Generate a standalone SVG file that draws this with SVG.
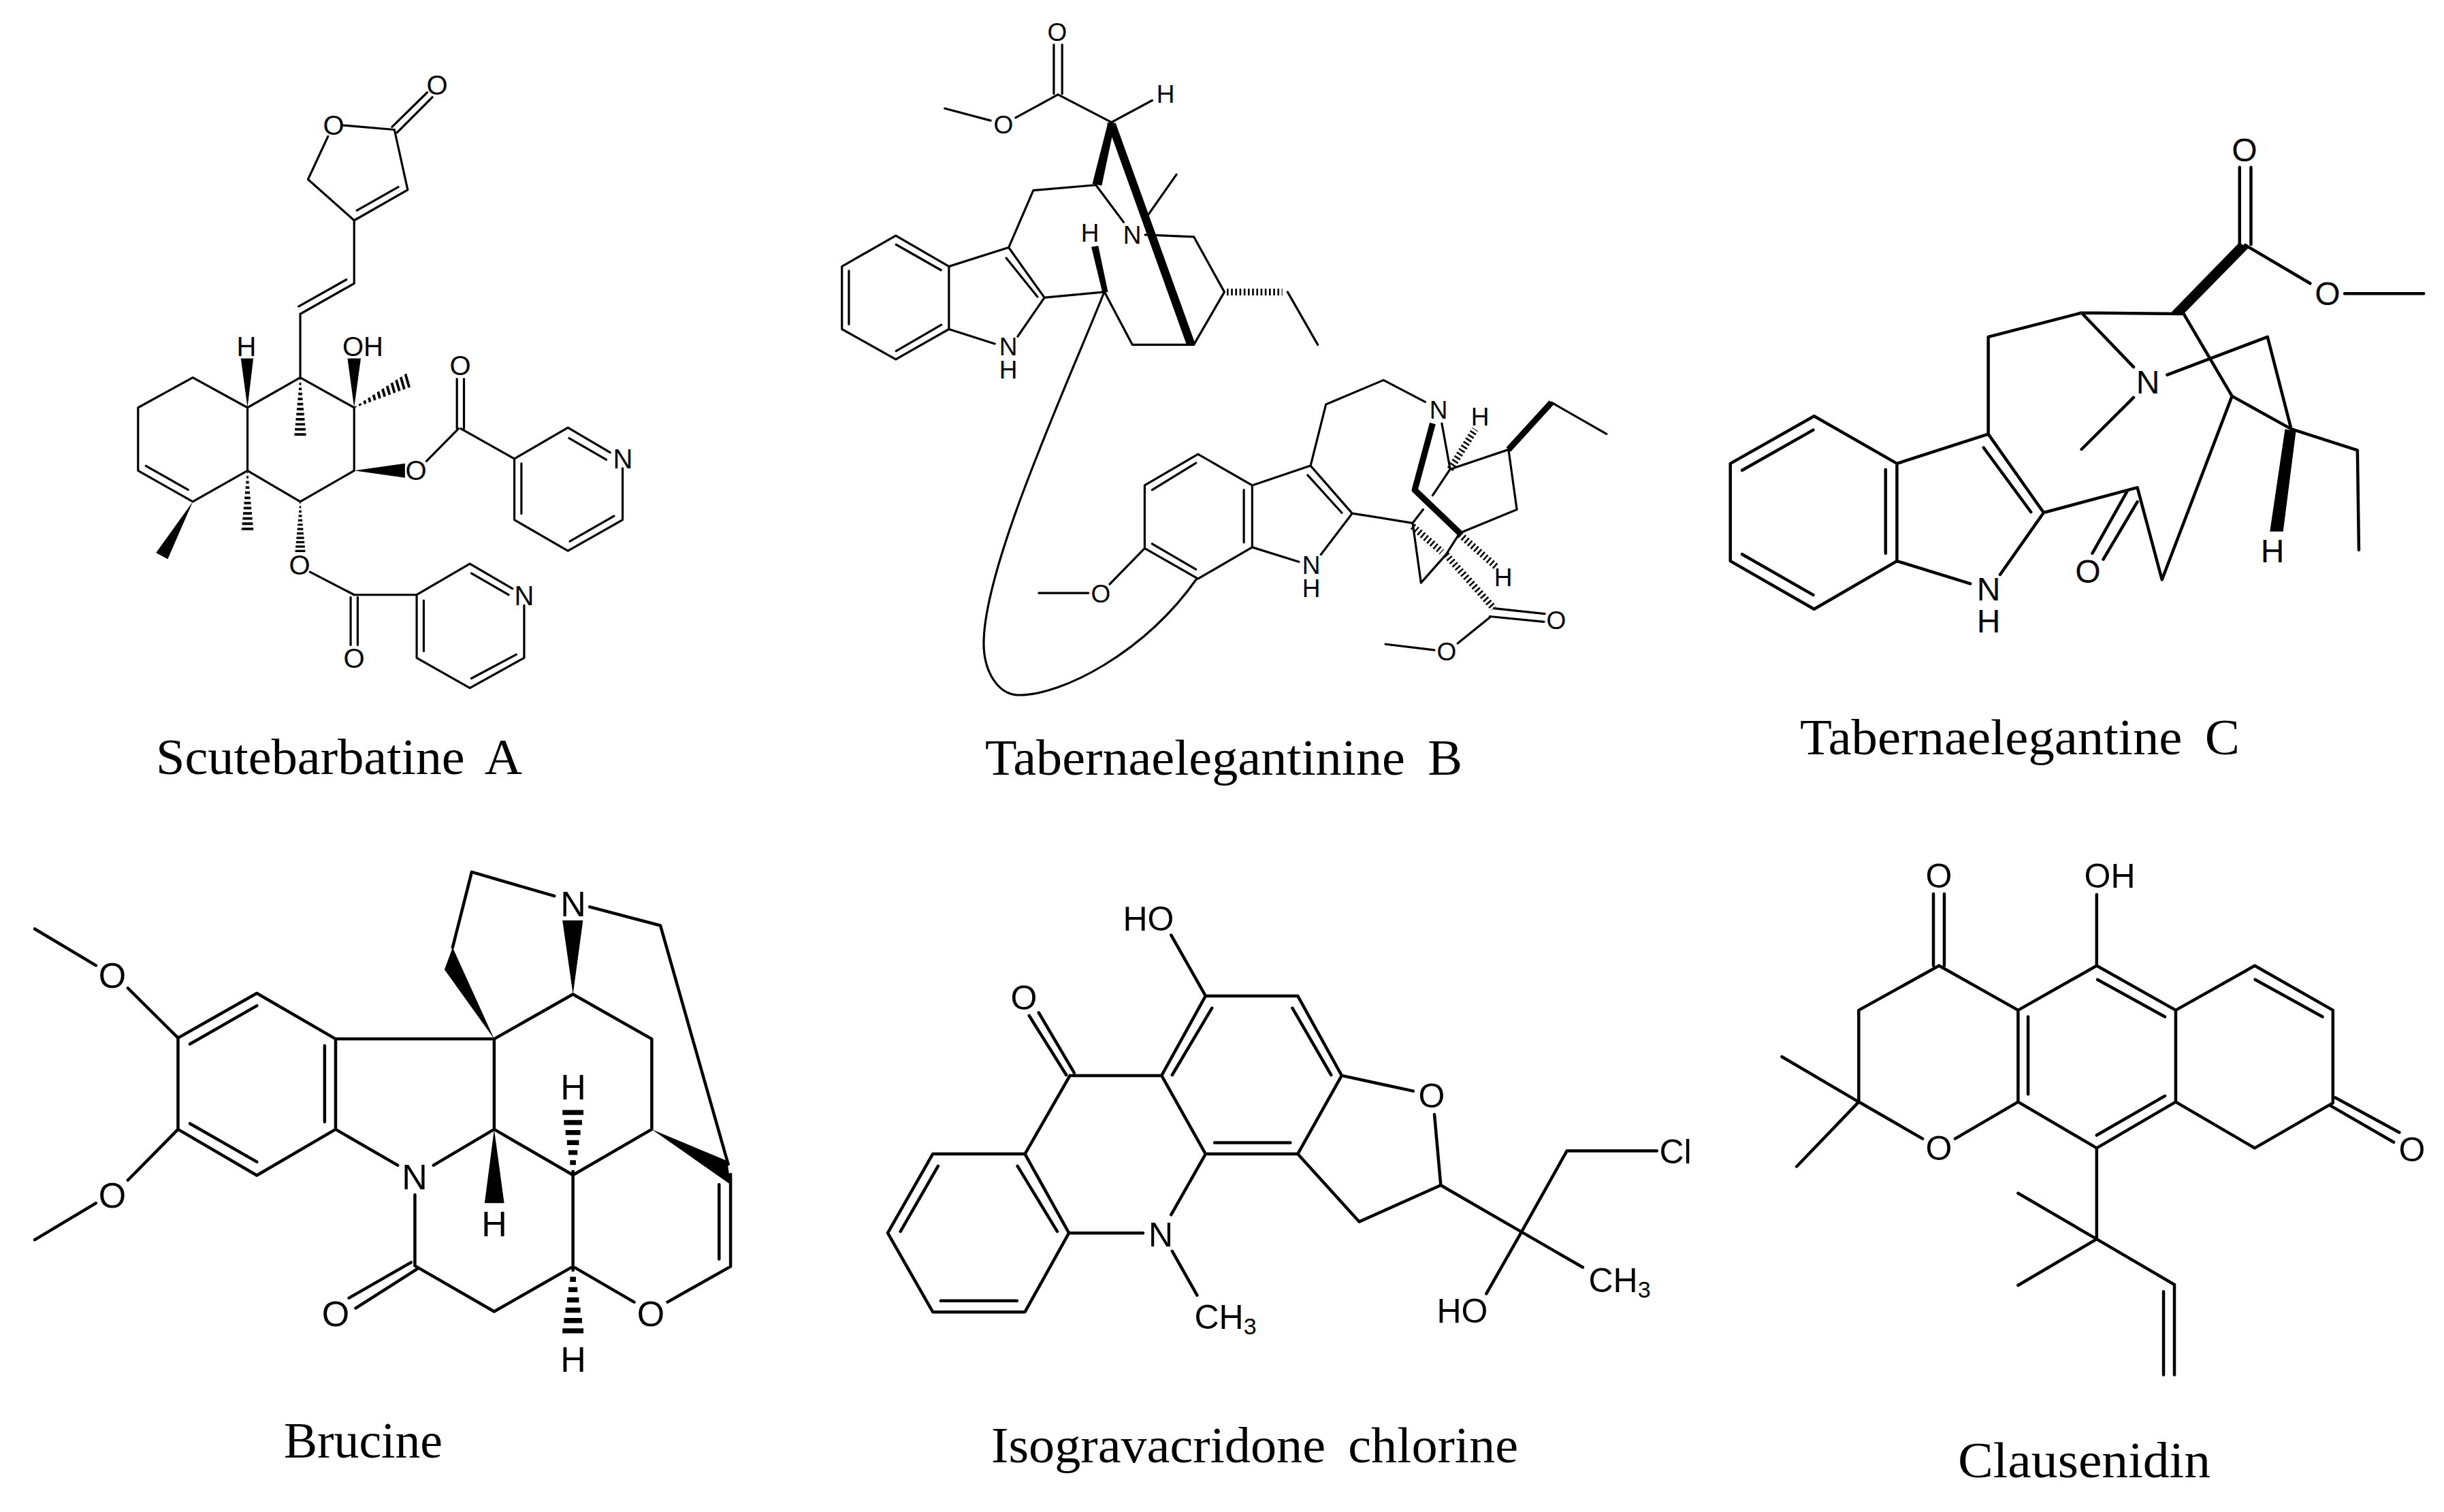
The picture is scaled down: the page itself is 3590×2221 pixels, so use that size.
<svg xmlns="http://www.w3.org/2000/svg" xmlns:xlink="http://www.w3.org/1999/xlink" width="3590" height="2221" viewBox="0 0 3590 2221">
<style>
.b{fill:none;stroke:#000;stroke-width:3.2;stroke-linecap:round;stroke-linejoin:round;vector-effect:non-scaling-stroke}
.b4{fill:none;stroke:#000;stroke-width:4.5;stroke-linecap:round;stroke-linejoin:round;vector-effect:non-scaling-stroke}
.k{fill:none;stroke:#000;stroke-width:9;stroke-linejoin:round;stroke-linecap:butt;vector-effect:non-scaling-stroke}
.d{fill:none;stroke:#000;stroke-width:10;stroke-dasharray:2.6 3.6;vector-effect:non-scaling-stroke}
.a{font-family:"Liberation Sans",Arial,sans-serif;text-anchor:middle;fill:#000}
.cap{font-family:"Liberation Serif","Times New Roman",serif;font-size:75px;word-spacing:14px;fill:#000}
.f40{font-size:40px}.f37{font-size:37px}.f48{font-size:48px}.f52{font-size:52px}.f50{font-size:50px}
.s{font-size:34px}
</style>
<defs>
<path id="h12" d="M0-.08h.042v.16h-.042zM.083-.164h.042v.328h-.042zM.167-.247h.042v.494h-.042zM.25-.331h.042v.662h-.042zM.333-.414h.042v.828h-.042zM.417-.498h.042v.996h-.042zM.5-.582h.042v1.164h-.042zM.583-.665h.042v1.33h-.042zM.667-.749h.042v1.498h-.042zM.75-.832h.042v1.664h-.042zM.833-.916h.042v1.832h-.042zM.917-1h.042v2h-.042z"/>
<path id="h7" d="M0-.14h.07v.28h-.07zM.143-.28h.07v.56h-.07zM.286-.43h.07v.86h-.07zM.429-.57h.07v1.14h-.07zM.571-.71h.07v1.42h-.07zM.714-.86h.07v1.72h-.07zM.857-1h.07v2h-.07z"/>
</defs>
<rect width="3590" height="2221" fill="#fff"/>

<g id="scutebarbatine-a">
<g transform="translate(150 60) scale(.574 .7015)">
<path class="b" d="M618 177L748 186M742 180L832 108M755 192L845 118M748 186L782 312L645 376M652 355L758 306M645 376L527 290L578 200M645 376V508L507 572M503 556L625 500M507 572V705L645 768V900L507 965L372 900V768L507 705M372 768L232 705L92 768V900L232 965L372 900M112 890L220 940M830 880L912 812M908 812V708M926 812V708M918 812L1055 875L1192 810L1300 862M1195 832L1290 877M1332 895V1003L1192 1068L1055 1003V875M1310 995L1197 1048M1073 990V885M532 1112L645 1160M636 1165V1265M654 1165V1265M645 1160H805L941 1095L1050 1147M945 1115L1040 1160M1080 1182V1292L941 1355L805 1292V1160M1060 1285L945 1335M823 1278V1172"/>
<polygon points="372,768 355,665 387,665"/>
<polygon points="645,768 628,665 662,665"/>
<polygon points="232,965 138,1072 168,1085"/>
<polygon points="645,900 775,885 775,915"/>
<use xlink:href="#h12" href="#h12" transform="matrix(0 127 15 0 507 705)"/>
<use xlink:href="#h12" href="#h12" transform="matrix(145 -60 5 14 645 768)"/>
<use xlink:href="#h12" href="#h12" transform="matrix(0 130 15 0 372 900)"/>
<use xlink:href="#h12" href="#h12" transform="matrix(0 110 13 0 507 965)"/>
</g>
<g class="a f40">
<text x="490" y="198">O</text><text x="642" y="139">O</text><text x="362" y="523">H</text><text x="533" y="523">OH</text><text x="676" y="551">O</text><text x="611" y="705">O</text><text x="915" y="688">N</text><text x="440" y="844">O</text><text x="770" y="889">N</text><text x="520" y="981">O</text>
</g>
<text class="cap" x="229" y="1137" textLength="538" lengthAdjust="spacingAndGlyphs">Scutebarbatine A</text>
</g>

<g id="tabernaelegantinine-b">
<g transform="translate(1200 20) scale(.5102 .3571)">
<path class="b" d="M682 128V330M706 128V330M694 333L848 447L965 357M694 333L572 428M500 440L368 390M803 705L623 727L552 962L655 1168M545 1005L635 1165M552 962L380 1040V1298L227 1422L72 1298V1040L227 913L380 1040M357 1055L228 950M92 1058V1278M228 1388L358 1280M380 1298L512 1358M578 1328L655 1168L828 1145M803 705L883 858M955 825L1035 662M945 910L1085 918L1173 1145L1085 1362H908L828 1145M1355 1145L1442 1362"/>
<polygon points="838,448 858,450 820,708 793,700"/>
<polygon points="835,450 860,450 1090,1362 1065,1365"/>
<polygon points="790,960 810,955 838,1145 822,1148"/>
<path class="d" d="M1180 1145H1340"/>
</g>
<path class="b" d="M1622 429C1570 560 1445 830 1445 945C1445 985 1465 1021 1497 1021C1560 1021 1680 960 1758 850"/>
<g transform="translate(1420 520) scale(.6122 .3954)">
<path class="b" d="M1000 97L862 187L825 415L925 592M818 450L900 590M1000 97L1100 178M825 415L685 488L555 372L427 488V722L555 835L685 718V488M550 405L445 505M445 705L550 800M665 505V700M685 718L797 772M850 745L925 592L1070 628M427 722L343 855M292 888H173M1140 258L1160 428L1118 525M1095 578L1070 628M1160 428L1300 355L1320 578L1183 665L1150 745L1090 850L1070 628M1403 180L1535 297M1265 945L1387 965M1255 975L1385 995M1258 975L1178 1075M1122 1100L1005 1078"/>
<path class="k" d="M1118 258L1075 505L1183 665M1300 355L1403 180"/>
<path class="d" d="M1160 428L1220 280M1183 670L1270 790M1070 640L1140 735M1150 745L1265 945"/>
</g>
<g class="a f37">
<text x="1553" y="60">O</text><text x="1474" y="196">O</text><text x="1712" y="151">H</text><text x="1601" y="355">H</text><text x="1663" y="358">N</text><text x="1481" y="522">N</text><text x="1481" y="556">H</text>
<text x="2113" y="615">N</text><text x="2174" y="625">H</text><text x="2208" y="861">H</text><text x="1926" y="843">N</text><text x="1926" y="877">H</text><text x="1617" y="885">O</text><text x="2286" y="924">O</text><text x="2125" y="970">O</text>
</g>
<text class="cap" x="1447" y="1138" textLength="701" lengthAdjust="spacingAndGlyphs">Tabernaelegantinine B</text>
</g>

<g id="tabernaelegantine-c">
<g transform="translate(2500 180) scale(.6952 .4974)">
<path class="b4" d="M1136 132V360M1160 132V360M1148 362L1285 475M1358 505H1525M802 562L1018 565L1120 808L1245 905L1385 968L1388 1262M802 562L605 633V920L722 1152M595 960L695 1150M605 920L412 1007V1295L237 1437L60 1295V1007L237 867L412 1007M235 908L85 1027M85 1275L235 1395M388 1025V1272M412 1295L567 1362M630 1335L722 1152L920 1078L972 1350L1120 808M898 1090L825 1272M920 1120L848 1290M802 562L912 722M912 812L802 965M983 745L1195 633L1245 905"/>
<polygon points="1135,355 1155,370 1018,565 992,560"/>
<polygon points="1232,905 1255,912 1228,1208 1200,1208"/>
</g>
<g class="a f48">
<text x="3297" y="237">O</text><text x="3419" y="448">O</text><text x="3155" y="578">N</text><text x="2921" y="882">N</text><text x="2921" y="929">H</text><text x="3067" y="856">O</text><text x="3338" y="826">H</text>
</g>
<text class="cap" x="2644" y="1108" textLength="646" lengthAdjust="spacingAndGlyphs">Tabernaelegantine C</text>
</g>

<g id="brucine">
<g transform="translate(30 1260) scale(.7015 .4974)">
<path class="b4" d="M30 210L158 318M225 385L330 532L495 400L660 535V802L495 938L330 802V532M355 550L495 437M495 898L355 785M637 555V780M330 802L225 952M158 1020L30 1128M660 535H992M660 802L790 908M865 908L992 802V535M826 995V1205M818 1195L688 1300M830 1215L702 1330M826 1205L992 1340L1157 1207L1285 1312M1355 1312L1487 1207V935M1463 1185V965M992 802L1157 937L1322 802V535L1157 403L992 535M1157 937V1207M1340 200L1482 905M1192 145L1340 200M1118 113L945 42L905 265"/>
<polygon points="1322,802 1480,895 1487,965"/>
<polygon points="992,535 905,265 888,330"/>
<polygon points="1157,403 1135,185 1178,185"/>
<polygon points="992,802 972,1020 1013,1020"/>
<use xlink:href="#h7" href="#h7" transform="matrix(0 -207 22 0 1157 937)"/>
<use xlink:href="#h7" href="#h7" transform="matrix(0 213 22 0 1157 1207)"/>
</g>
<g class="a f52">
<text x="165" y="1451">O</text><text x="165" y="1774">O</text><text x="609" y="1747">N</text><text x="493" y="1948">O</text><text x="956" y="1948">O</text><text x="842" y="1346">N</text><text x="726" y="1816">H</text><text x="842" y="1615">H</text><text x="842" y="2015">H</text>
</g>
<text class="cap" x="417" y="2141" textLength="233" lengthAdjust="spacingAndGlyphs">Brucine</text>
</g>

<g id="isogravacridone-chlorine">
<g transform="translate(1290 1300) scale(.7781 .4464)">
<path class="b4" d="M553 165L618 365H792L875 627M782 405L855 625M618 365L535 627M630 405L555 625M535 627H362M355 625L285 430M370 618L303 420M362 627L277 885H103L18 1145L103 1405H277L360 1145L277 885M263 925L338 1140M113 925L42 1140M118 1368H262M360 1145H500M553 1085L618 885L535 627M618 885H792L875 627L1010 678M635 848H778M1050 755L1062 988M792 885L908 1108L1062 988L1330 1258M1470 875H1300L1215 1140L1148 1345M555 1205L602 1350"/>
</g>
<g class="a f50">
<text x="1687" y="1367">HO</text><text x="1504" y="1483">O</text><text x="2103" y="1627">O</text><text x="1705" y="1831">N</text><text x="2461" y="1709">Cl</text><text x="2379" y="1898">CH<tspan class="s" dy="8">3</tspan></text><text x="2148" y="1943">HO</text><text x="1800" y="1952">CH<tspan class="s" dy="8">3</tspan></text>
</g>
<text class="cap" x="1456" y="2148" textLength="774" lengthAdjust="spacingAndGlyphs">Isogravacridone chlorine</text>
</g>

<g id="clausenidin">
<g transform="translate(2590 1240) scale(.6378 .5102)">
<path class="b4" d="M392 143V350M417 143V350M405 350L220 478V742L367 848M442 848L587 742V478L405 350M610 720V497M587 478L768 350V145M768 350L950 478M770 390L925 497M950 478L1132 350L1312 478V745L1132 875L950 742V478M1133 390L1288 497M950 742L768 875L587 742M925 725L768 838M1318 730L1465 830M1305 752L1452 858M220 742L43 612M220 742L77 928M768 875V1137L587 1005M768 1137L587 1270M768 1137L947 1268V1528M922 1288V1528"/>
</g>
<g class="a f50">
<text x="2848" y="1304">O</text><text x="3099" y="1304">OH</text><text x="2848" y="1704">O</text><text x="3543" y="1706">O</text>
</g>
<text class="cap" x="2876" y="2170" textLength="371" lengthAdjust="spacingAndGlyphs">Clausenidin</text>
</g>
</svg>
